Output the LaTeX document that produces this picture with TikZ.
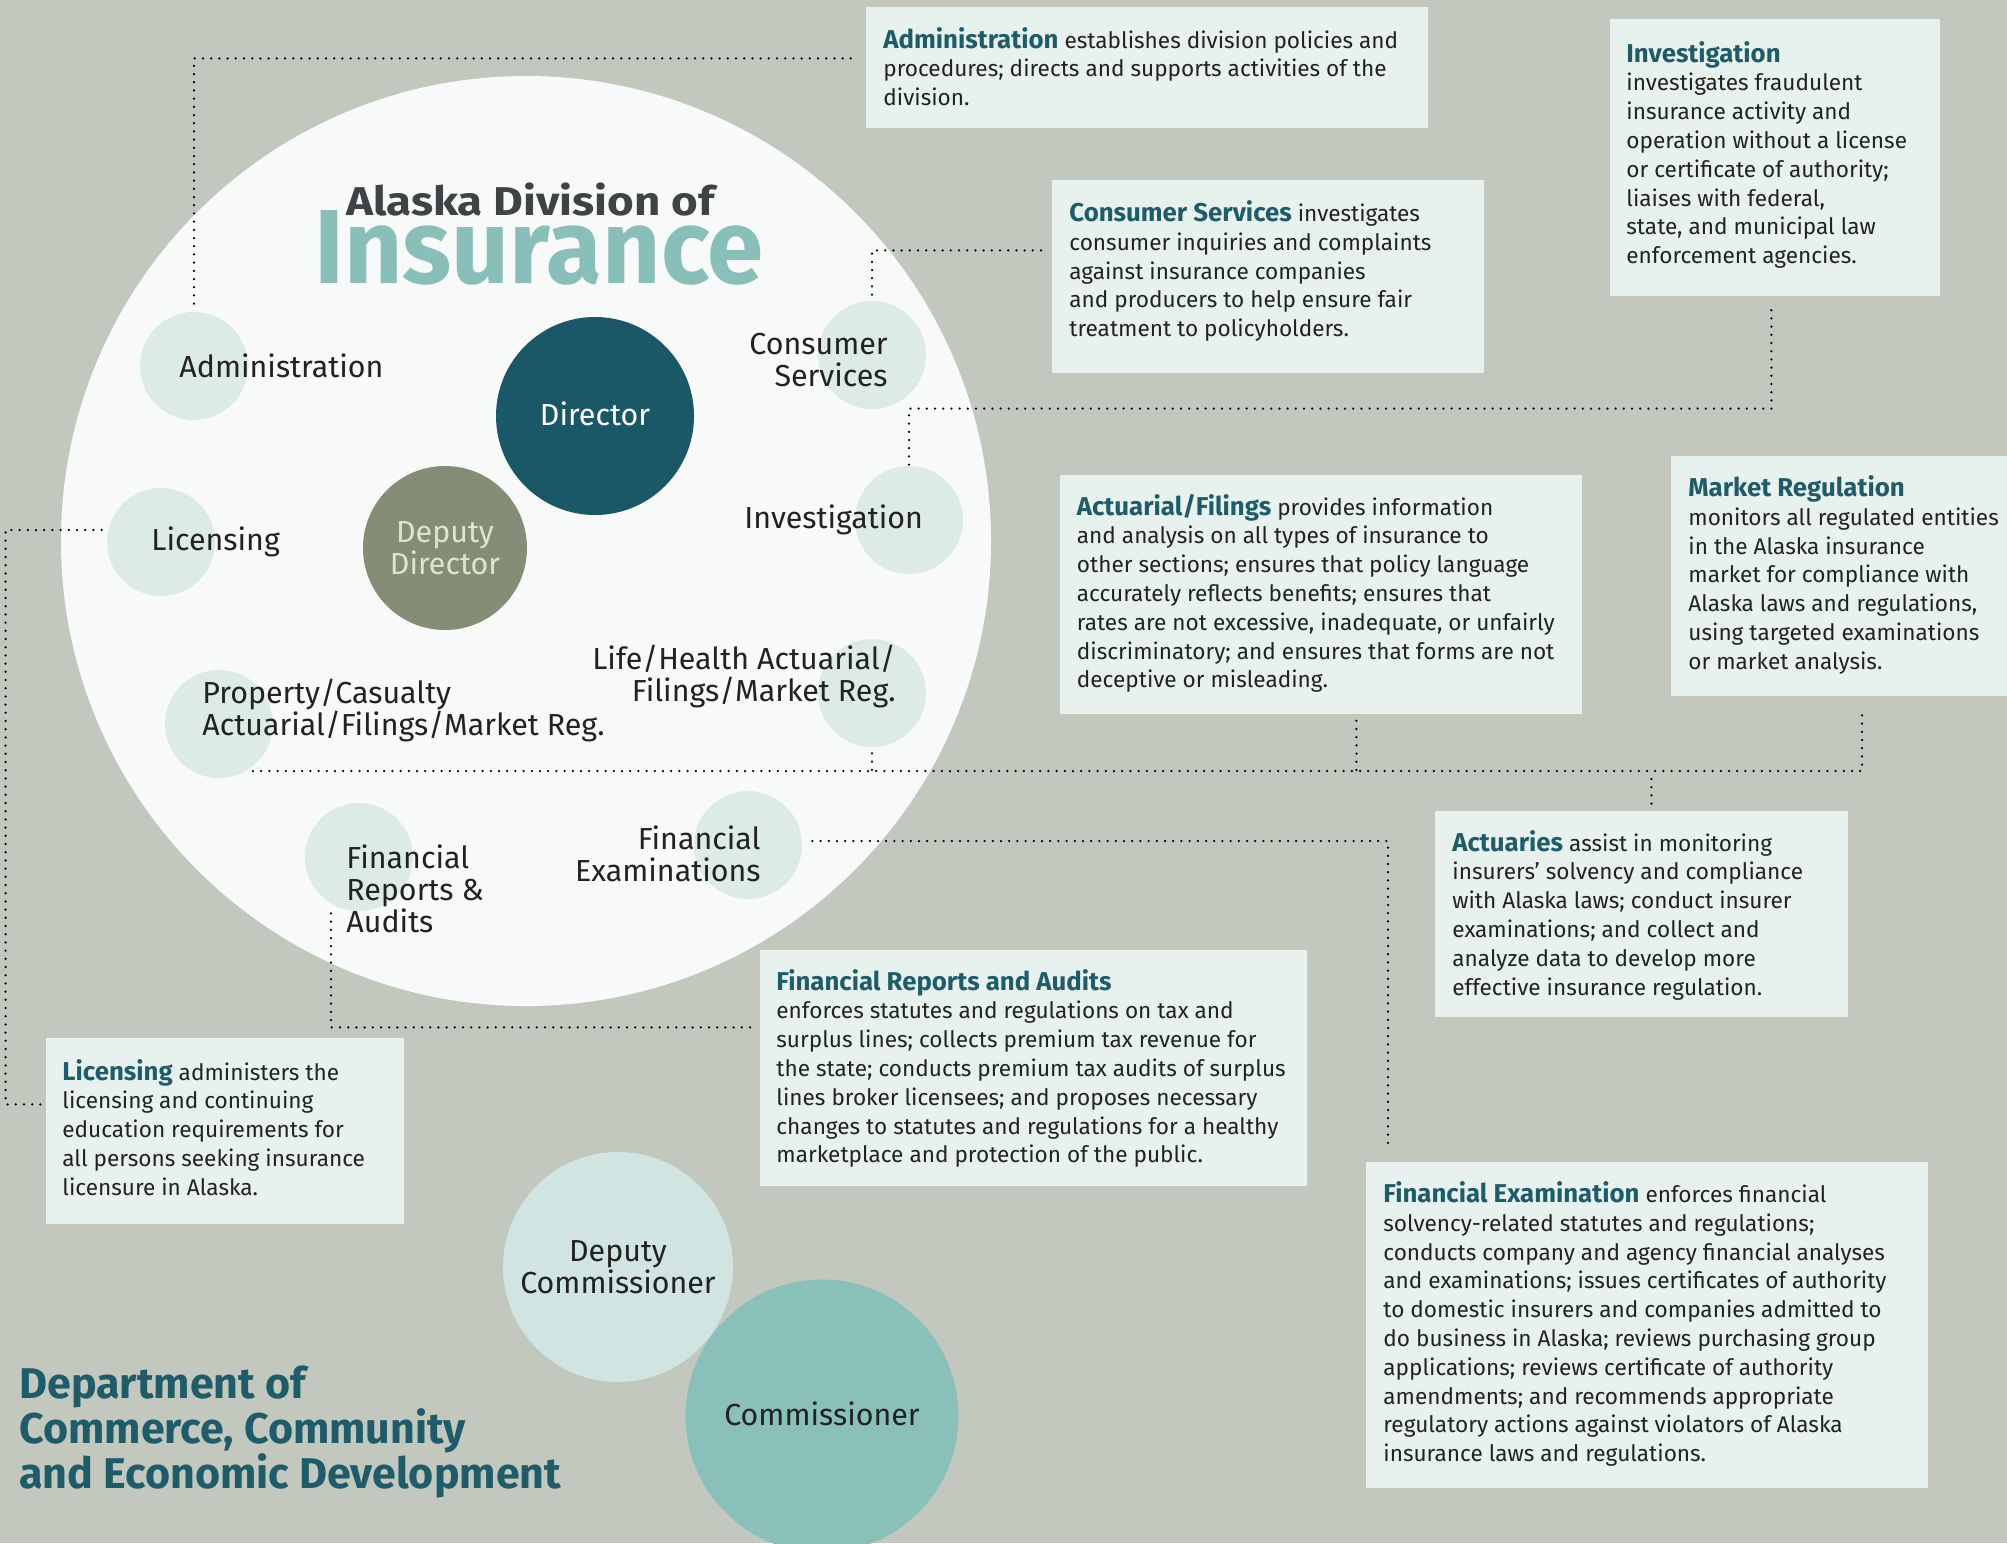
\documentclass[tikz,border=0pt]{standalone}
\usepackage{fontspec}
\setmainfont{Fira Sans}
\usepackage{graphicx}
\definecolor{bgcol}{HTML}{C2C8BD}
\definecolor{boxfill}{HTML}{E7F2EF}
\definecolor{bigfill}{HTML}{F8FAF9}
\definecolor{subfill}{HTML}{DCEAE8}
\definecolor{dirfill}{HTML}{1A5767}
\definecolor{depfill}{HTML}{858D76}
\definecolor{dcomfill}{HTML}{D0E4E1}
\definecolor{comfill}{HTML}{89C0B9}
\definecolor{headteal}{HTML}{1F5C6A}
\definecolor{instext}{HTML}{88BFB8}
\definecolor{titlegray}{HTML}{404345}
\definecolor{bodytext}{HTML}{222222}
\definecolor{deptext}{HTML}{DEE3D6}
\newcommand{\hd}[1]{{\fontsize{12.9pt}{14.4pt}\selectfont\bfseries\color{headteal}#1}}
\newcommand{\bodyfont}{\fontsize{11.3pt}{14.4pt}\selectfont}
\newcommand{\lblfont}{\fontsize{15.2pt}{16pt}\selectfont}
\newcommand{\depfont}{\fontsize{21.5pt}{22.5pt}\selectfont\bfseries}
\begin{document}
\begin{tikzpicture}[x=0.5pt,y=-0.5pt,
  conn/.style={line width=1.25pt, dash pattern=on 0pt off 4.1pt, line cap=round, draw=black},
  infobox/.style={rectangle, fill=boxfill, draw=none, anchor=north west, inner sep=0pt},
  subcirc/.style={circle, fill=subfill, minimum size=54pt, inner sep=0pt},
  lbl/.style={font=\lblfont, text=bodytext, inner sep=0pt},
  body/.style={font=\bodyfont, align=left, inner sep=0pt, anchor=base west, text=bodytext}]
\useasboundingbox (0,0) rectangle (2007,1543);
\clip (0,0) rectangle (2007,1543);
\fill[bgcol] (0,0) rectangle (2007,1543);

% big circle
\node[circle, fill=bigfill, minimum size=465pt, inner sep=0pt] (big) at (526,541) {};

% info boxes
\node[infobox, minimum width=281pt, minimum height=60.5pt] (admbox) at (866,7) {};
\node[infobox, minimum width=216pt, minimum height=96.5pt] (consbox) at (1052,180) {};
\node[infobox, minimum width=165pt, minimum height=138.5pt] (invbox) at (1610,19) {};
\node[infobox, minimum width=261pt, minimum height=119.5pt] (actbox) at (1060,475) {};
\node[infobox, minimum width=170pt, minimum height=120pt] (mktbox) at (1671,456) {};
\node[infobox, minimum width=206.5pt, minimum height=103pt] (actuarbox) at (1435,811) {};
\node[infobox, minimum width=273.5pt, minimum height=118pt] (frabox) at (760,950) {};
\node[infobox, minimum width=179pt, minimum height=93pt] (licbox) at (46,1038) {};
\node[infobox, minimum width=281pt, minimum height=163pt] (finexbox) at (1366,1162) {};

% small circles
\node[subcirc] (adm) at (194,366) {};
\node[subcirc] (lic) at (161,542) {};
\node[subcirc] (cons) at (872,355) {};
\node[subcirc] (inv) at (909,520) {};
\node[subcirc] (life) at (872,693) {};
\node[subcirc] (prop) at (219,724) {};
\node[subcirc] (fra) at (359,857) {};
\node[subcirc] (finex) at (748,845) {};

% main circles
\node[circle, fill=dirfill, minimum size=99pt, inner sep=0pt, font=\lblfont, text=white] (dir) at (595,416) {\raisebox{2.5pt}{Director}};
\node[circle, fill=depfill, minimum size=82pt, inner sep=0pt, font=\lblfont, text=deptext, align=center] (depdir) at (445,548) {Deputy\\Director};
\node[circle, fill=dcomfill, minimum size=115pt, inner sep=0pt, font=\lblfont, text=bodytext, align=center] (depcom) at (618,1267) {Deputy\\Commissioner};
\node[circle, fill=comfill, minimum size=136.5pt, inner sep=0pt, font=\lblfont, text=bodytext] (com) at (822,1416) {\raisebox{2.5pt}{Commissioner}};

% connectors
\draw[conn] ([yshift=4pt]adm.north) |- ([shift={(-15,-9.5)}]admbox.west);
\draw[conn] ([yshift=3pt]cons.north) |- ([shift={(-10,-26.5)}]consbox.west);
\draw[conn] ([yshift=0.5pt]inv.north) -- ++(0,-56) -| ([shift={(-4,6)}]invbox.south);
\draw[conn] ([shift={(-5,-12)}]lic.west) -- ++(-96,0) |- ([shift={(-1,-27)}]licbox.west);
\coordinate (busL) at (253,771);
\coordinate (busR) at (1862,771);
\draw[conn] (busL) -- (busR) -- ([yshift=-5.5pt]busR |- mktbox.south);
\draw[conn] ([yshift=-3pt]life.south) -- (life.south |- busL);
\draw[conn] ([shift={(35,6)}]actbox.south) -- ([xshift=17.5pt]actbox.south |- busL);
\draw[conn] ([shift={(9.5,8)}]actuarbox.north |- busL) -- ([shift={(9.5,-7)}]actuarbox.north);
\draw[conn] ([shift={(10,-4)}]finex.east) -| ([shift={(22,-12)}]finexbox.north west);
\draw[conn] ([shift={(-28,2)}]fra.south) |- ([shift={(-6,-41)}]frabox.west);

% title
\node[anchor=base west, inner sep=0pt, text=titlegray] (title1) at (346,215) {\resizebox{184pt}{16.3pt}{\bfseries Alaska Division of}};
\node[anchor=base west, inner sep=0pt, text=instext] (title2) at (314,283) {\resizebox{224.5pt}{36.5pt}{\bfseries Insurance}};

% circle labels (anchor = baseline of last line)
\node[lbl, anchor=base west, align=left] (admlbl) at (179,377) {Administration};
\node[lbl, anchor=base west, align=left] (liclbl) at (151,550) {Licensing};
\node[lbl, anchor=base east, align=right] (conslbl) at (888,386) {Consumer\\Services};
\node[lbl, anchor=base west, align=left] (invlbl) at (744,528) {Investigation};
\node[lbl, anchor=base east, align=right] (lifelbl) at (896,701) {Life/Health Actuarial/\\Filings/Market Reg.};
\node[lbl, anchor=base west, align=left] (proplbl) at (202,735) {Property/Casualty\\Actuarial/Filings/Market Reg.};
\node[lbl, anchor=base west, align=left] (fralbl) at (346,932.5) {Financial\\Reports \&\\Audits};
\node[lbl, anchor=base east, align=right] (finexlbl) at (761,881) {Financial\\Examinations};

% department
\node[anchor=base west, align=left, inner sep=0pt, font=\depfont, text=headteal] (dept) at (19,1488) {Department of\\Commerce, Community\\and Economic Development};

% box texts (anchor = baseline of last line)
\node[body] (admtxt) at (883,105.6) {\hd{Administration} establishes division policies and\\procedures; directs and supports activities of the\\division.};
\node[body] (constxt) at (1069,336.7) {\hd{Consumer Services} investigates\\consumer inquiries and complaints\\against insurance companies\\and producers to help ensure fair\\treatment to policyholders.};
\node[body] (invtxt) at (1626,263.6) {\hd{Investigation}\\investigates fraudulent\\insurance activity and\\operation without a license\\or certificate of authority;\\liaises with federal,\\state, and municipal law\\enforcement agencies.};
\node[body] (acttxt) at (1076.5,687.8) {\hd{Actuarial/Filings} provides information\\and analysis on all types of insurance to\\other sections; ensures that policy language\\accurately reflects benefits; ensures that\\rates are not excessive, inadequate, or unfairly\\discriminatory; and ensures that forms are not\\deceptive or misleading.};
\node[body] (mkttxt) at (1688,669.3) {\hd{Market Regulation}\\monitors all regulated entities\\in the Alaska insurance\\market for compliance with\\Alaska laws and regulations,\\using targeted examinations\\or market analysis.};
\node[body] (actuartxt) at (1452,995) {\hd{Actuaries} assist in monitoring\\insurers’ solvency and compliance\\with Alaska laws; conduct insurer\\examinations; and collect and\\analyze data to develop more\\effective insurance regulation.};
\node[body] (fratxt) at (776,1162.8) {\hd{Financial Reports and Audits}\\enforces statutes and regulations on tax and\\surplus lines; collects premium tax revenue for\\the state; conducts premium tax audits of surplus\\lines broker licensees; and proposes necessary\\changes to statutes and regulations for a healthy\\marketplace and protection of the public.};
\node[body] (lictxt) at (62,1195.2) {\hd{Licensing} administers the\\licensing and continuing\\education requirements for\\all persons seeking insurance\\licensure in Alaska.};
\node[body] (finextxt) at (1383,1461.7) {\hd{Financial Examination} enforces financial\\solvency-related statutes and regulations;\\conducts company and agency financial analyses\\and examinations; issues certificates of authority\\to domestic insurers and companies admitted to\\do business in Alaska; reviews purchasing group\\applications; reviews certificate of authority\\amendments; and recommends appropriate\\regulatory actions against violators of Alaska\\insurance laws and regulations.};
\end{tikzpicture}
\end{document}
